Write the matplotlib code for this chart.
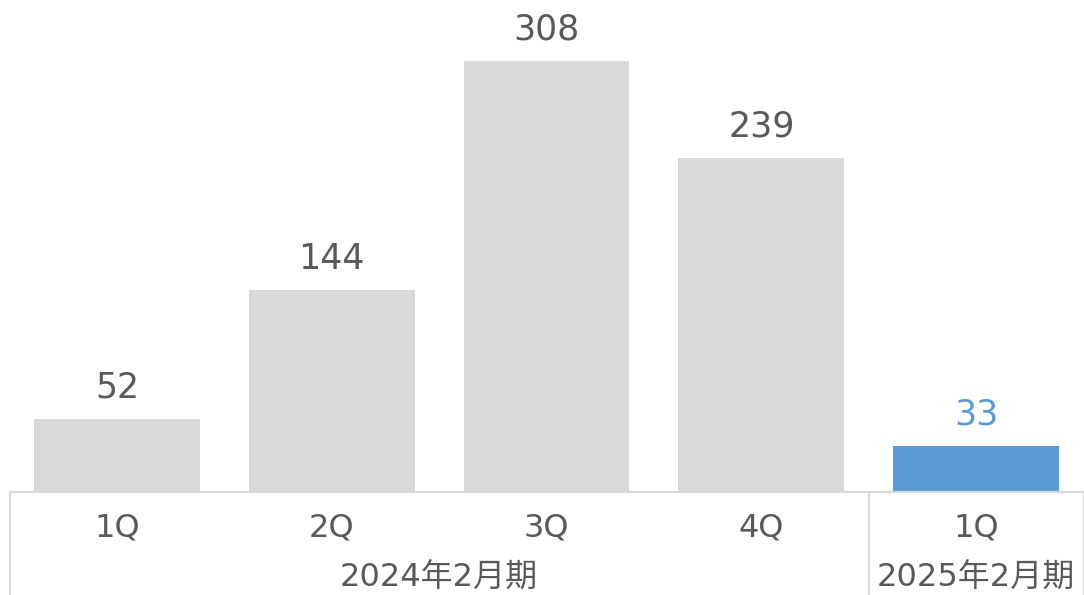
import matplotlib
matplotlib.use("Agg")
import matplotlib.pyplot as plt

plt.rcParams['font.family'] = ['DejaVu Sans', 'Noto Sans CJK JP']

# 四半期ごとの値
quarters = ['1Q', '2Q', '3Q', '4Q', '1Q']
values = [52, 144, 308, 239, 33]
periods = ['2024年2月期', '2025年2月期']
period_sizes = [4, 1]   # 各期に含まれる四半期の数

gray = '#d9d9d9'
blue = '#5b9bd5'
text_col = '#595959'

W, H = 1084, 595
fig = plt.figure(figsize=(W / 100, H / 100), dpi=100)
# 軸領域(ピクセル): 左 9.5, 右 1083.5, 下 492, 上 0
left, right, base = 9.5, 1083.5, 492
ax = fig.add_axes([left / W, (H - base) / H, (right - left) / W, base / H])

x = list(range(len(values)))
colors = [gray] * (len(values) - 1) + [blue]
ax.bar(x, values, width=0.772, color=colors)
ax.set_xlim(-0.5, len(values) - 0.5)
ax.set_ylim(0, 351.6)
ax.axis('off')

for xi, v, c in zip(x, values, colors):
    lc = blue if c == blue else text_col
    ax.annotate(str(v), (xi, v), xytext=(0, 15.5), textcoords='offset points',
                ha='center', va='baseline', fontsize=25, color=lc)

# 下部のカテゴリ表
line_kw = dict(color=gray, lw=1.5, transform=fig.transFigure, clip_on=False)
fig.add_artist(plt.Line2D([left / W, right / W], [1 - base / H] * 2, **line_kw))

def px(xv):
    # データ x 座標 -> ピクセル
    return left + (xv + 0.5) * (right - left) / len(values)

start = 0
bounds = [0]
for n in period_sizes:
    start += n
    bounds.append(start)
for b in bounds:
    xp = px(b - 0.5) / W
    fig.add_artist(plt.Line2D([xp, xp], [0, 1 - base / H], **line_kw))

for xi, q in zip(x, quarters):
    fig.text(px(xi) / W, 1 - 537 / H, q, ha='center', va='baseline',
             fontsize=23, color=text_col)

for i, p in enumerate(periods):
    mid = (bounds[i] + bounds[i + 1] - 1) / 2
    fig.text(px(mid) / W, 1 - 587 / H, p, ha='center', va='baseline',
             fontsize=23, color=text_col)

fig.savefig('out.png', dpi=100)
